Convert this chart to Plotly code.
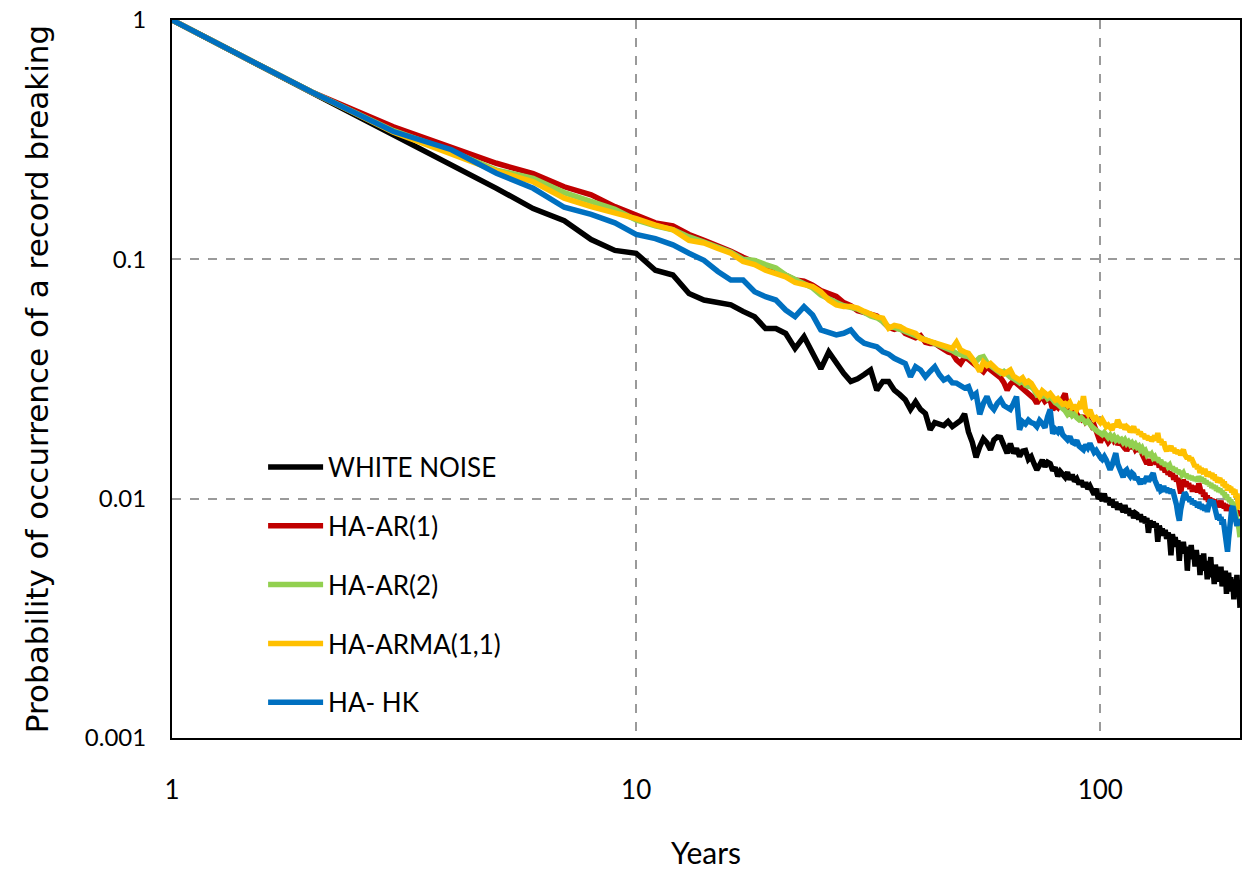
import plotly.graph_objects as go

years = list(range(1, 201))

white_noise = [
    1.0, 0.5, 0.33, 0.25, 0.198, 0.163, 0.145, 0.121, 0.109, 0.106,
    0.090, 0.086, 0.072, 0.0676, 0.0656, 0.0645, 0.0606, 0.0575, 0.0514, 0.0514,
    0.049, 0.0424, 0.0475, 0.0405, 0.0349, 0.0410, 0.0366, 0.0334, 0.0309, 0.0317,
    0.0330, 0.0345, 0.0284, 0.0309, 0.0309, 0.0284, 0.0272, 0.0259, 0.0236, 0.0254,
    0.0236, 0.0227, 0.0194, 0.0208, 0.0205, 0.0202, 0.0210, 0.0200, 0.0206, 0.0212,
    0.0226, 0.0190, 0.0172, 0.0149, 0.0165, 0.0178, 0.0171, 0.0160, 0.0176, 0.0181,
    0.0180, 0.0168, 0.0155, 0.0170, 0.0155, 0.0162, 0.0150, 0.0158, 0.0159, 0.0146,
    0.0150, 0.0140, 0.0132, 0.0138, 0.0145, 0.0136, 0.0142, 0.0140, 0.0131, 0.0135,
    0.0124, 0.0130, 0.0127, 0.0123, 0.0129, 0.0120, 0.0126, 0.0118, 0.0121, 0.0115,
    0.0119, 0.0112, 0.0117, 0.0110, 0.0113, 0.0108, 0.0104, 0.0110, 0.0100, 0.0102,
    0.0098, 0.0105, 0.0097, 0.0101, 0.0094, 0.0099, 0.0092, 0.0097, 0.0090, 0.0095,
    0.0091, 0.0088, 0.0094, 0.0087, 0.0091, 0.0085, 0.0089, 0.0083, 0.0087, 0.0086,
    0.0082, 0.0086, 0.0080, 0.0084, 0.0079, 0.0083, 0.0072, 0.0081, 0.0077, 0.0080,
    0.0076, 0.0079, 0.0066, 0.0077, 0.0073, 0.0075, 0.0070, 0.0074, 0.0068, 0.0072,
    0.0069, 0.0058, 0.0071, 0.0066, 0.0069, 0.0063, 0.0067, 0.0055, 0.0065, 0.0062,
    0.0066, 0.0059, 0.0063, 0.0050, 0.0061, 0.0058, 0.0064, 0.0056, 0.0060, 0.0052,
    0.0061, 0.0055, 0.0058, 0.0048, 0.0057, 0.0053, 0.0059, 0.0050, 0.0054, 0.0046,
    0.0055, 0.0051, 0.0057, 0.0047, 0.0052, 0.0044, 0.0053, 0.0049, 0.0045, 0.0051,
    0.0047, 0.0052, 0.0043, 0.0048, 0.0045, 0.0050, 0.0040, 0.0046, 0.0049, 0.0043,
    0.0047, 0.0041, 0.0045, 0.0038, 0.0046, 0.0042, 0.0048, 0.0040, 0.0044, 0.0035,
]

ha_ar1 = [
    1.0, 0.5, 0.358, 0.296, 0.252, 0.228, 0.201, 0.186, 0.166, 0.153,
    0.142, 0.138, 0.127, 0.120, 0.114, 0.108, 0.102, 0.097, 0.093, 0.090,
    0.086, 0.082, 0.081, 0.078, 0.074, 0.072, 0.070, 0.066, 0.064, 0.061,
    0.060, 0.059, 0.058, 0.055, 0.052, 0.051, 0.052, 0.049, 0.048, 0.047,
    0.048, 0.045, 0.0445, 0.0446, 0.0432, 0.0420, 0.0410, 0.0405, 0.0380, 0.0367,
    0.0390, 0.0382, 0.0370, 0.0360, 0.0350, 0.0339, 0.0355, 0.0345, 0.0338, 0.0330,
    0.0320, 0.0305, 0.0284, 0.0300, 0.0310, 0.0303, 0.0296, 0.0290, 0.0283, 0.0278,
    0.0270, 0.0262, 0.0250, 0.0262, 0.0266, 0.0255, 0.0260, 0.0258, 0.0235, 0.0245,
    0.0240, 0.0252, 0.0265, 0.0275, 0.0240, 0.0228, 0.0232, 0.0242, 0.0225, 0.0220,
    0.0215, 0.0222, 0.0210, 0.0215, 0.0205, 0.0200, 0.0203, 0.0190, 0.0185, 0.0172,
    0.0180, 0.0185, 0.0178, 0.0172, 0.0176, 0.0182, 0.0175, 0.0179, 0.0168, 0.0173,
    0.0170, 0.0166, 0.0171, 0.0158, 0.0165, 0.0169, 0.0162, 0.0166, 0.0160, 0.0163,
    0.0158, 0.0162, 0.0154, 0.0150, 0.0143, 0.0140, 0.0146, 0.0138, 0.0144, 0.0141,
    0.0146, 0.0139, 0.0145, 0.0135, 0.0140, 0.0132, 0.0136, 0.0129, 0.0133, 0.0126,
    0.0130, 0.0124, 0.0128, 0.0120, 0.0125, 0.0118, 0.0122, 0.0108, 0.0105, 0.0115,
    0.0120, 0.0114, 0.0118, 0.0112, 0.0116, 0.0110, 0.0114, 0.0107, 0.0112, 0.0109,
    0.0113, 0.0106, 0.0116, 0.0111, 0.0105, 0.0109, 0.0102, 0.0106, 0.0099, 0.0103,
    0.0097, 0.0101, 0.0096, 0.0100, 0.0094, 0.0099, 0.0095, 0.0098, 0.0092, 0.0097,
    0.0094, 0.0098, 0.0092, 0.0096, 0.0091, 0.0095, 0.0089, 0.0093, 0.0090, 0.0094,
    0.0091, 0.0095, 0.0088, 0.0092, 0.0087, 0.0091, 0.0086, 0.0089, 0.0085, 0.0087,
]

ha_ar2 = [
    1.0, 0.5, 0.345, 0.283, 0.236, 0.218, 0.190, 0.175, 0.162, 0.146,
    0.138, 0.133, 0.124, 0.118, 0.112, 0.107, 0.100, 0.099, 0.095, 0.092,
    0.086, 0.082, 0.079, 0.076, 0.071, 0.068, 0.066, 0.064, 0.063, 0.062,
    0.060, 0.058, 0.057, 0.055, 0.052, 0.052, 0.051, 0.050, 0.049, 0.048,
    0.047, 0.046, 0.0452, 0.0446, 0.0438, 0.0430, 0.0424, 0.0415, 0.0405, 0.0398,
    0.0395, 0.0392, 0.0380, 0.0375, 0.0388, 0.0392, 0.0370, 0.0360, 0.0352, 0.0345,
    0.0334, 0.0340, 0.0328, 0.0322, 0.0318, 0.0310, 0.0305, 0.0312, 0.0298, 0.0294,
    0.0294, 0.0285, 0.0272, 0.0275, 0.0268, 0.0272, 0.0262, 0.0267, 0.0258, 0.0252,
    0.0248, 0.0244, 0.0238, 0.0233, 0.0225, 0.0230, 0.0222, 0.0226, 0.0218, 0.0214,
    0.0218, 0.0212, 0.0208, 0.0211, 0.0204, 0.0200, 0.0196, 0.0192, 0.0190, 0.0188,
    0.0185, 0.0189, 0.0183, 0.0180, 0.0184, 0.0178, 0.0182, 0.0176, 0.0179, 0.0175,
    0.0177, 0.0172, 0.0176, 0.0170, 0.0173, 0.0168, 0.0171, 0.0166, 0.0169, 0.0164,
    0.0166, 0.0160, 0.0163, 0.0157, 0.0159, 0.0153, 0.0156, 0.0150, 0.0153, 0.0148,
    0.0150, 0.0145, 0.0148, 0.0142, 0.0145, 0.0139, 0.0142, 0.0137, 0.0140, 0.0136,
    0.0138, 0.0133, 0.0136, 0.0131, 0.0134, 0.0129, 0.0132, 0.0127, 0.0130, 0.0126,
    0.0128, 0.0124, 0.0127, 0.0122, 0.0125, 0.0121, 0.0124, 0.0120, 0.0123, 0.0119,
    0.0122, 0.0118, 0.0124, 0.0120, 0.0123, 0.0118, 0.0121, 0.0116, 0.0119, 0.0115,
    0.0117, 0.0113, 0.0116, 0.0111, 0.0114, 0.0110, 0.0113, 0.0108, 0.0111, 0.0107,
    0.0110, 0.0106, 0.0108, 0.0104, 0.0106, 0.0101, 0.0104, 0.0099, 0.0101, 0.0097,
    0.0099, 0.0095, 0.0097, 0.0093, 0.0090, 0.0086, 0.0083, 0.0080, 0.0075, 0.0069,
]

ha_arma11 = [
    1.0, 0.5, 0.340, 0.277, 0.234, 0.211, 0.180, 0.166, 0.157, 0.148,
    0.139, 0.133, 0.120, 0.117, 0.111, 0.106, 0.098, 0.095, 0.090, 0.0875,
    0.0845, 0.080, 0.078, 0.077, 0.0731, 0.0676, 0.0645, 0.0635, 0.0635, 0.0625,
    0.0606, 0.0587, 0.0575, 0.0568, 0.0515, 0.053, 0.0524, 0.0508, 0.0500, 0.049,
    0.0467, 0.046, 0.0455, 0.0446, 0.0440, 0.0432, 0.0428, 0.0425, 0.0450, 0.0418,
    0.0410, 0.0405, 0.0385, 0.0356, 0.0340, 0.0372, 0.0360, 0.0367, 0.0352, 0.0345,
    0.0340, 0.0332, 0.0338, 0.0345, 0.0325, 0.0318, 0.0313, 0.0320, 0.0305, 0.0310,
    0.0303, 0.0290, 0.0278, 0.0268, 0.0282, 0.0276, 0.0270, 0.0275, 0.0264, 0.0258,
    0.0262, 0.0255, 0.0248, 0.0250, 0.0245, 0.0252, 0.0240, 0.0242, 0.0236, 0.0246,
    0.0238, 0.0268, 0.0232, 0.0226, 0.0235, 0.0222, 0.0215, 0.0218, 0.0212, 0.0208,
    0.0214, 0.0205, 0.0200, 0.0203, 0.0196, 0.0194, 0.0205, 0.0199, 0.0213, 0.0202,
    0.0198, 0.0204, 0.0195, 0.0200, 0.0197, 0.0190, 0.0196, 0.0200, 0.0189, 0.0194,
    0.0186, 0.0190, 0.0182, 0.0186, 0.0178, 0.0183, 0.0176, 0.0181, 0.0174, 0.0179,
    0.0183, 0.0175, 0.0188, 0.0172, 0.0177, 0.0168, 0.0173, 0.0163, 0.0158, 0.0165,
    0.0161, 0.0166, 0.0158, 0.0163, 0.0155, 0.0160, 0.0154, 0.0159, 0.0152, 0.0157,
    0.0160, 0.0153, 0.0150, 0.0147, 0.0151, 0.0144, 0.0148, 0.0141, 0.0140, 0.0136,
    0.0139, 0.0133, 0.0137, 0.0128, 0.0134, 0.0130, 0.0127, 0.0133, 0.0126, 0.0124,
    0.0129, 0.0125, 0.0124, 0.0128, 0.0121, 0.0126, 0.0119, 0.0123, 0.0117, 0.0120,
    0.0122, 0.0116, 0.0120, 0.0113, 0.0118, 0.0111, 0.0115, 0.0108, 0.0113, 0.0110,
    0.0112, 0.0106, 0.0110, 0.0104, 0.0109, 0.0101, 0.0105, 0.0097, 0.0094, 0.0090,
]

ha_hk = [
    1.0, 0.5, 0.342, 0.287, 0.229, 0.198, 0.165, 0.154, 0.142, 0.127,
    0.122, 0.115, 0.106, 0.099, 0.089, 0.0819, 0.0819, 0.0732, 0.0698, 0.0676,
    0.0614, 0.0576, 0.0634, 0.0585, 0.0507, 0.0498, 0.0483, 0.0491, 0.0507, 0.0468,
    0.0446, 0.0438, 0.0431, 0.0411, 0.0402, 0.0386, 0.0377, 0.0367, 0.0323, 0.0356,
    0.0345, 0.0323, 0.0340, 0.0356, 0.0330, 0.0313, 0.0320, 0.0305, 0.0304, 0.0298,
    0.0290, 0.0294, 0.0267, 0.0275, 0.0225, 0.0250, 0.0267, 0.0245, 0.0236, 0.0250,
    0.0259, 0.0245, 0.0240, 0.0236, 0.0250, 0.0267, 0.0194, 0.0210, 0.0205, 0.0213,
    0.0208, 0.0206, 0.0200, 0.0212, 0.0206, 0.0198, 0.0220, 0.0236, 0.0187, 0.0195,
    0.0190, 0.0199, 0.0185, 0.0180, 0.0176, 0.0182, 0.0172, 0.0170, 0.0175, 0.0166,
    0.0164, 0.0160, 0.0168, 0.0163, 0.0170, 0.0162, 0.0156, 0.0159, 0.0153, 0.0149,
    0.0146, 0.0150, 0.0145, 0.0140, 0.0132, 0.0138, 0.0146, 0.0155, 0.0140, 0.0134,
    0.0128, 0.0123, 0.0130, 0.0132, 0.0127, 0.0124, 0.0128, 0.0126, 0.0120, 0.0123,
    0.0119, 0.0115, 0.0121, 0.0116, 0.0120, 0.0124, 0.0118, 0.0122, 0.0125, 0.0128,
    0.0120, 0.0116, 0.0112, 0.0114, 0.0108, 0.0109, 0.0113, 0.0107, 0.0111, 0.0106,
    0.0110, 0.0105, 0.0109, 0.0104, 0.0100, 0.0094, 0.0086, 0.0081, 0.0090, 0.0098,
    0.0102, 0.0106, 0.0104, 0.0099, 0.0102, 0.0097, 0.0100, 0.0095, 0.0098, 0.0094,
    0.0096, 0.0092, 0.0097, 0.0091, 0.0095, 0.0090, 0.0094, 0.0089, 0.0093, 0.0088,
    0.0094, 0.0097, 0.0099, 0.0095, 0.0098, 0.0092, 0.0088, 0.0085, 0.0082, 0.0086,
    0.0081, 0.0084, 0.0078, 0.0082, 0.0075, 0.0070, 0.0064, 0.0060, 0.0068, 0.0080,
    0.0087, 0.0091, 0.0093, 0.0088, 0.0084, 0.0080, 0.0077, 0.0082, 0.0078, 0.0081,
]

series_names = ["WHITE NOISE", "HA-AR(1)", "HA-AR(2)", "HA-ARMA(1,1)", "HA- HK"]
series_values = [white_noise, ha_ar1, ha_ar2, ha_arma11, ha_hk]
series_colors = ["#000000", "#C00000", "#92D050", "#FFC000", "#0070C0"]

x_tick_vals = [1, 10, 100]
x_tick_text = ["1", "10", "100"]
y_tick_vals = [0.001, 0.01, 0.1, 1]
y_tick_text = ["0.001", "0.01", "0.1", "1"]

FONT = "Lato, sans-serif"

fig = go.Figure()
for i, (name, vals, col) in enumerate(zip(series_names, series_values, series_colors)):
    fig.add_trace(go.Scatter(
        x=years, y=vals, mode="lines", name=name,
        line=dict(color=col, width=5.5),
        legendgroup="g%d" % i,
    ))

fig.update_layout(
    width=1255, height=870,
    margin=dict(l=172, r=15, t=20, b=132, autoexpand=False),
    paper_bgcolor="white", plot_bgcolor="white",
    font=dict(family=FONT, color="#000000", size=22),
    showlegend=True,
    legend=dict(
        x=0.0853, y=0.41, xanchor="left", yanchor="top",
        bgcolor="rgba(0,0,0,0)", borderwidth=0,
        font=dict(family=FONT, size=26, color="#000000"),
        tracegroupgap=22, itemwidth=55,
    ),
    xaxis=dict(
        type="log", range=[0, 2.30103], automargin=False,
        tickvals=x_tick_vals, ticktext=x_tick_text,
        showgrid=True, gridcolor="#9a9a9a", griddash="dash", gridwidth=1.5,
        showline=True, linecolor="#000000", linewidth=2, mirror=True,
        ticks="", ticklabelstandoff=28,
        tickfont=dict(family=FONT, size=26),
        title=dict(text="Years", font=dict(family=FONT, size=30), standoff=53),
        zeroline=False,
    ),
    yaxis=dict(
        type="log", range=[-3, 0], automargin=False,
        tickvals=y_tick_vals, ticktext=y_tick_text,
        showgrid=True, gridcolor="#9a9a9a", griddash="dash", gridwidth=1.5,
        showline=True, linecolor="#000000", linewidth=2, mirror=True,
        ticks="", ticklabelstandoff=19,
        tickfont=dict(family=FONT, size=24),
        title=dict(text="Probability of occurrence of a record breaking",
                   font=dict(family="DejaVu Sans, sans-serif", size=31), standoff=27),
        zeroline=False,
    ),
)

fig.write_html(
    "out.html",
    config={"displayModeBar": False},
    post_script="document.body.style.margin='0';document.body.style.overflow='hidden';",
)
